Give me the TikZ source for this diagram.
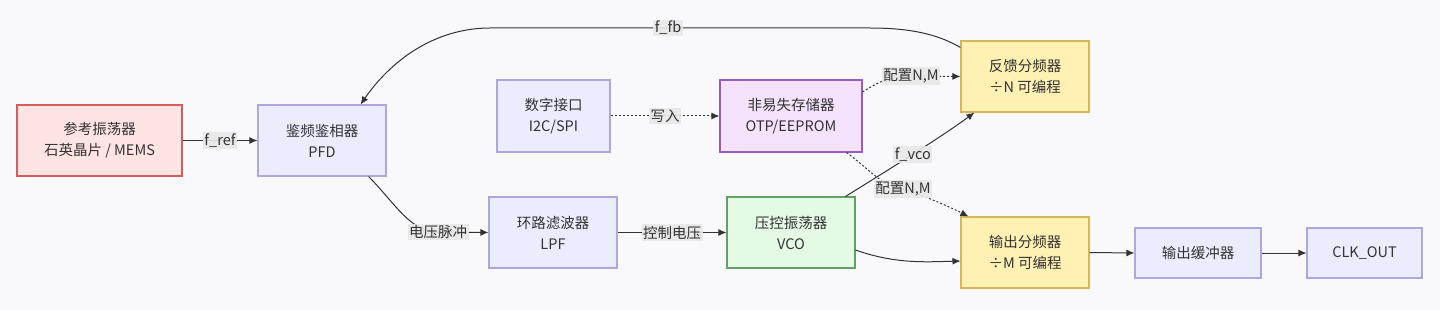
\documentclass[tikz,border=0pt]{standalone}
\usepackage{fontspec}
\setmainfont{Noto Sans CJK SC}
\usetikzlibrary{arrows.meta}
\definecolor{bgc}{RGB}{249,249,251}
\definecolor{txt}{RGB}{51,51,51}
\definecolor{lnc}{RGB}{51,51,51}
\definecolor{lblbg}{RGB}{232,232,232}
\definecolor{redfill}{RGB}{255,228,228}
\definecolor{reddraw}{RGB}{214,92,92}
\definecolor{bluefill}{RGB}{236,236,255}
\definecolor{bluedraw}{RGB}{176,166,222}
\definecolor{purpfill}{RGB}{245,226,252}
\definecolor{purpdraw}{RGB}{152,92,192}
\definecolor{yelfill}{RGB}{255,241,180}
\definecolor{yeldraw}{RGB}{214,182,86}
\definecolor{grnfill}{RGB}{228,250,228}
\definecolor{grndraw}{RGB}{100,160,100}
\begin{document}
\begin{tikzpicture}[x=1pt,y=-1pt,
  box/.style={draw, line width=1.1pt, text=txt, align=center, inner sep=0pt,
    font=\fontsize{14.5}{21}\selectfont},
  redbox/.style={box, fill=redfill, draw=reddraw},
  bluebox/.style={box, fill=bluefill, draw=bluedraw},
  purpbox/.style={box, fill=purpfill, draw=purpdraw},
  yelbox/.style={box, fill=yelfill, draw=yeldraw},
  grnbox/.style={box, fill=grnfill, draw=grndraw},
  lbl/.style={fill=lblbg, fill opacity=0.9, text opacity=1, text=txt, inner sep=1.5pt,
    font=\fontsize{14.5}{17}\selectfont},
  conn/.style={draw=lnc, line width=1pt, -{Latex[length=8pt,width=7pt]}},
  dotconn/.style={conn, dash pattern=on 2pt off 2pt}
]
\fill[bgc] (0,0) rectangle (1440,310);
\useasboundingbox (0,0) rectangle (1440,310);

\node[redbox, minimum width=165pt, minimum height=71pt] (ref) at (99.5,140.5) {参考振荡器\\石英晶片 / MEMS};
\node[bluebox, minimum width=128pt, minimum height=71pt] (pfd) at (322,140.5) {鉴频鉴相器\\PFD};
\node[bluebox, minimum width=113pt, minimum height=72pt] (dig) at (553.5,116) {数字接口\\I2C/SPI};
\node[purpbox, minimum width=142pt, minimum height=72pt] (nvm) at (791,116) {非易失存储器\\OTP/EEPROM};
\node[yelbox, minimum width=128pt, minimum height=71pt] (fb) at (1025,76.5) {反馈分频器\\÷N 可编程};
\node[bluebox, minimum width=128pt, minimum height=71pt] (lpf) at (553,232.5) {环路滤波器\\LPF};
\node[grnbox, minimum width=128pt, minimum height=71pt] (vco) at (791,232.5) {压控振荡器\\VCO};
\node[yelbox, minimum width=128pt, minimum height=71pt] (out) at (1025,252.5) {输出分频器\\÷M 可编程};
\node[bluebox, minimum width=126pt, minimum height=50pt] (buf) at (1198,253) {输出缓冲器};
\node[bluebox, minimum width=115pt, minimum height=50pt] (clk) at (1364.5,253) {CLK\_OUT};

% ref -> pfd
\draw[conn] (ref.east) -- node[lbl]{f\_ref} (pfd.west);
% pfd -> lpf
\draw[conn] ([xshift=-18pt]pfd.south east) .. controls (395,203) and (410,232) .. (438,232)
  node[lbl]{电压脉冲} -- (lpf.west);
% lpf -> vco
\draw[conn] (lpf.east) -- node[lbl]{控制电压} (vco.west);
% vco -> fb
\draw[conn] ([xshift=-10pt]vco.north east) .. controls (880,175) and (940,138) .. ([xshift=14pt]fb.south west)
  node[lbl, pos=0.52]{f\_vco};
% vco -> out
\draw[conn] ([yshift=-17.5pt]vco.east) .. controls (895,264) and (925,262) .. ([yshift=-8.5pt]out.west);
% dig -> nvm
\draw[dotconn] (dig.east) -- node[lbl]{写入} (nvm.west);
% nvm -> fb
\draw[dotconn] ([yshift=24pt]nvm.east) .. controls (878,82) and (890,76) .. (911,76)
  node[lbl]{配置N,M} -- (fb.west);
% nvm -> out
\draw[dotconn] ([xshift=-16pt]nvm.south east) .. controls (868,168) and (885,189) .. (903,189)
  node[lbl]{配置N,M} .. controls (925,196) and (950,207) .. ([xshift=8pt]out.north west);
% fb -> pfd
\draw[conn] ([yshift=-7pt]fb.north west) .. controls (942,37) and (918,28) .. (870,28)
  -- (668,28) node[lbl]{f\_fb} -- (490,28) .. controls (440,28) and (395,55) .. ([xshift=-26pt]pfd.north east);
% out -> buf -> clk
\draw[conn] (out.east) -- (buf.west);
\draw[conn] (buf.east) -- (clk.west);
\end{tikzpicture}
\end{document}
